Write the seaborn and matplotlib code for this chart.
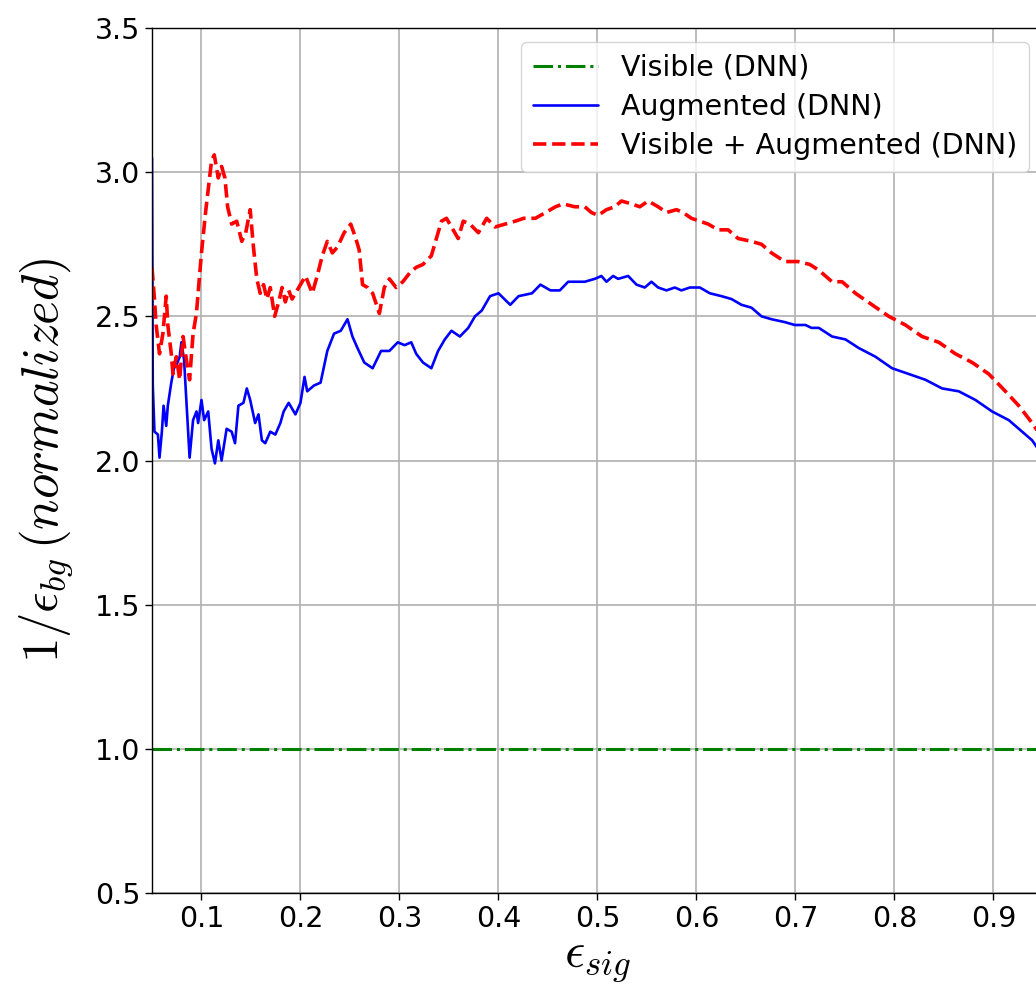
import numpy as np
import pandas as pd
import matplotlib
matplotlib.use("Agg")
import matplotlib.pyplot as plt
import seaborn as sns

# Signal efficiency grid and background rejection curves (normalized to the visible-only DNN)
visible_sig = [0.05, 0.95]
visible_rej = [1.0, 1.0]

augmented_sig = [
    0.0500, 0.0508, 0.0525, 0.0560, 0.0576, 0.0600, 0.0617, 0.0644, 0.0660, 0.0695,
    0.0722, 0.0746, 0.0780, 0.0797, 0.0824, 0.0847, 0.0880, 0.0915, 0.0950, 0.0966,
    0.1000, 0.1027, 0.1068, 0.1102, 0.1136, 0.1170, 0.1203, 0.1254, 0.1305, 0.1339,
    0.1373, 0.1424, 0.1458, 0.1492, 0.1542, 0.1576, 0.1610, 0.1644, 0.1695, 0.1746,
    0.1797, 0.1830, 0.1881, 0.1949, 0.2000, 0.2041, 0.2068, 0.2136, 0.2203, 0.2271,
    0.2339, 0.2407, 0.2475, 0.2525, 0.2576, 0.2644, 0.2729, 0.2814, 0.2898, 0.2983,
    0.3051, 0.3119, 0.3169, 0.3237, 0.3322, 0.3390, 0.3458, 0.3525, 0.3610, 0.3695,
    0.3763, 0.3831, 0.3915, 0.4000, 0.4119, 0.4203, 0.4339, 0.4424, 0.4525, 0.4620,
    0.4704, 0.4788, 0.4872, 0.4973, 0.5040, 0.5091, 0.5158, 0.5209, 0.5310, 0.5394,
    0.5478, 0.5545, 0.5613, 0.5697, 0.5781, 0.5848, 0.5933, 0.6034, 0.6135, 0.6253,
    0.6354, 0.6455, 0.6556, 0.6657, 0.6758, 0.6892, 0.6993, 0.7101, 0.7162, 0.7236,
    0.7370, 0.7505, 0.7640, 0.7808, 0.7976, 0.8145, 0.8313, 0.8481, 0.8650, 0.8818,
    0.8987, 0.9155, 0.9290, 0.9391, 0.9451,
]
augmented_rej = [
    3.05, 2.26, 2.10, 2.09, 2.01, 2.10, 2.19, 2.12, 2.19, 2.27,
    2.32, 2.33, 2.36, 2.41, 2.35, 2.21, 2.01, 2.14, 2.17, 2.13,
    2.21, 2.14, 2.17, 2.04, 1.99, 2.07, 2.00, 2.11, 2.10, 2.06,
    2.19, 2.20, 2.25, 2.21, 2.13, 2.16, 2.07, 2.06, 2.10, 2.09,
    2.13, 2.17, 2.20, 2.16, 2.20, 2.29, 2.24, 2.26, 2.27, 2.38,
    2.44, 2.45, 2.49, 2.43, 2.39, 2.34, 2.32, 2.38, 2.38, 2.41,
    2.40, 2.41, 2.37, 2.34, 2.32, 2.38, 2.42, 2.45, 2.43, 2.46,
    2.50, 2.52, 2.57, 2.58, 2.54, 2.57, 2.58, 2.61, 2.59, 2.59,
    2.62, 2.62, 2.62, 2.63, 2.64, 2.62, 2.64, 2.63, 2.64, 2.61,
    2.60, 2.62, 2.60, 2.59, 2.60, 2.59, 2.60, 2.60, 2.58, 2.57,
    2.56, 2.54, 2.53, 2.50, 2.49, 2.48, 2.47, 2.47, 2.46, 2.46,
    2.43, 2.42, 2.39, 2.36, 2.32, 2.30, 2.28, 2.25, 2.24, 2.21,
    2.17, 2.14, 2.10, 2.07, 2.04,
]

combined_sig = [
    0.0500, 0.0525, 0.0542, 0.0576, 0.0610, 0.0644, 0.0660, 0.0695, 0.0712, 0.0746,
    0.0780, 0.0814, 0.0847, 0.0880, 0.0915, 0.0949, 0.0973, 0.1000, 0.1041, 0.1068,
    0.1102, 0.1129, 0.1170, 0.1203, 0.1237, 0.1264, 0.1305, 0.1356, 0.1407, 0.1447,
    0.1492, 0.1525, 0.1559, 0.1593, 0.1627, 0.1661, 0.1695, 0.1739, 0.1780, 0.1814,
    0.1847, 0.1881, 0.1915, 0.1966, 0.2017, 0.2051, 0.2119, 0.2169, 0.2220, 0.2271,
    0.2322, 0.2373, 0.2441, 0.2508, 0.2559, 0.2593, 0.2627, 0.2678, 0.2729, 0.2797,
    0.2847, 0.2898, 0.2966, 0.3034, 0.3102, 0.3169, 0.3237, 0.3322, 0.3373, 0.3424,
    0.3475, 0.3542, 0.3593, 0.3644, 0.3712, 0.3797, 0.3881, 0.3966, 0.4068, 0.4169,
    0.4254, 0.4373, 0.4475, 0.4576, 0.4653, 0.4771, 0.4872, 0.4939, 0.5007, 0.5091,
    0.5175, 0.5242, 0.5343, 0.5428, 0.5512, 0.5613, 0.5697, 0.5798, 0.5865, 0.5949,
    0.6034, 0.6118, 0.6219, 0.6320, 0.6421, 0.6556, 0.6657, 0.6758, 0.6892, 0.7027,
    0.7145, 0.7236, 0.7370, 0.7471, 0.7606, 0.7774, 0.7943, 0.8111, 0.8279, 0.8448,
    0.8616, 0.8785, 0.8953, 0.9121, 0.9256, 0.9391, 0.9451,
]
combined_rej = [
    2.67, 2.56, 2.47, 2.37, 2.44, 2.57, 2.47, 2.37, 2.30, 2.36,
    2.28, 2.43, 2.35, 2.28, 2.44, 2.51, 2.61, 2.72, 2.86, 2.94,
    3.04, 3.06, 2.98, 3.02, 2.98, 2.88, 2.82, 2.83, 2.76, 2.79,
    2.87, 2.74, 2.63, 2.58, 2.61, 2.56, 2.60, 2.50, 2.55, 2.60,
    2.55, 2.59, 2.56, 2.59, 2.62, 2.64, 2.58, 2.64, 2.71, 2.76,
    2.72, 2.74, 2.79, 2.82, 2.77, 2.73, 2.61, 2.60, 2.58, 2.51,
    2.60, 2.63, 2.60, 2.62, 2.65, 2.67, 2.68, 2.71, 2.77, 2.83,
    2.84, 2.80, 2.77, 2.83, 2.82, 2.79, 2.84, 2.81, 2.82, 2.83,
    2.84, 2.84, 2.86, 2.88, 2.89, 2.88, 2.88, 2.86, 2.85, 2.87,
    2.88, 2.90, 2.89, 2.88, 2.90, 2.88, 2.86, 2.87, 2.86, 2.84,
    2.83, 2.82, 2.80, 2.80, 2.77, 2.76, 2.75, 2.72, 2.69, 2.69,
    2.68, 2.66, 2.62, 2.62, 2.58, 2.54, 2.50, 2.47, 2.43, 2.41,
    2.37, 2.34, 2.30, 2.24, 2.19, 2.13, 2.10,
]

series_labels = ["Visible (DNN)", "Augmented (DNN)", "Visible + Augmented (DNN)"]
x_ticks = [0.1, 0.2, 0.3, 0.4, 0.5, 0.6, 0.7, 0.8, 0.9]
y_ticks = [0.5, 1.0, 1.5, 2.0, 2.5, 3.0, 3.5]

sns.set_theme(style="ticks", rc={
    "axes.grid": True,
    "grid.color": "#b0b0b0",
    "grid.linewidth": 1.2,
    "axes.edgecolor": "black",
    "axes.linewidth": 1.0,
    "xtick.color": "black",
    "ytick.color": "black",
    "text.color": "black",
    "axes.labelcolor": "black",
})
plt.rcParams["font.family"] = ["DejaVu Sans"]
plt.rcParams["mathtext.fontset"] = "cm"

fig = plt.figure(figsize=(10.36, 9.86), dpi=100)
ax = fig.add_axes([0.1467, 0.0943, 0.860, 0.8773])

df_vis = pd.DataFrame({"sig": visible_sig, "rej": visible_rej})
df_aug = pd.DataFrame({"sig": augmented_sig, "rej": augmented_rej})
df_cmb = pd.DataFrame({"sig": combined_sig, "rej": combined_rej})

sns.lineplot(data=df_vis, x="sig", y="rej", ax=ax, color="green",
             linestyle="-.", linewidth=2.2, label=series_labels[0])
sns.lineplot(data=df_aug, x="sig", y="rej", ax=ax, color="blue",
             linestyle="-", linewidth=1.9, label=series_labels[1])
sns.lineplot(data=df_cmb, x="sig", y="rej", ax=ax, color="red",
             linestyle="--", linewidth=2.6, label=series_labels[2])

ax.set_xlim(0.05, 0.95)
ax.set_ylim(0.5, 3.5)
ax.set_xticks(x_ticks)
ax.set_yticks(y_ticks)
ax.tick_params(axis="both", labelsize=20.5, direction="out", length=5, width=1.0)

ax.set_xlabel(r"$\epsilon_{sig}$", fontsize=36, labelpad=2)
ax.set_ylabel(r"$1/\epsilon_{bg}\,(normalized)$", fontsize=36.5, labelpad=14)

ax.legend(loc="upper right", fontsize=20.5, handlelength=2.3, labelspacing=0.4,
          framealpha=0.8, edgecolor="#cccccc", fancybox=True)

fig.savefig("out.png", dpi=100)
